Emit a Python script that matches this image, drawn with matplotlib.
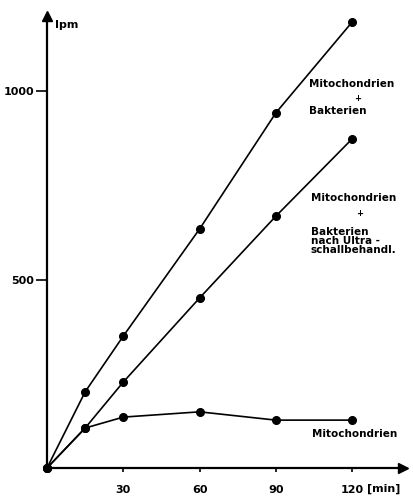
import numpy as np
import matplotlib
matplotlib.use('Agg')
import matplotlib.pyplot as plt

plt.rcParams['font.family'] = 'DejaVu Sans'
plt.rcParams['font.weight'] = 'bold'

# Zeit (min) und Impulse pro Minute
zeit = [0, 15, 30, 60, 90, 120]
mito_bakt = [0, 202, 350, 634, 942, 1183]
mito_bakt_us = [0, 106, 228, 451, 668, 873]
mito = [0, 106, 135, 149, 127, 127]

xticks = [30, 60, 90, 120]
yticks = [500, 1000]

fig = plt.figure(figsize=(4.14, 5.0), dpi=100)
ax = fig.add_axes([47/414, 32/500, 356/414, 452/500])
ax.set_xlim(0, 140.0)
ax.set_ylim(0, 1199)

for s in ['top', 'right']:
    ax.spines[s].set_visible(False)
for s in ['left', 'bottom']:
    ax.spines[s].set_linewidth(1.6)
    ax.spines[s].set_color('black')

# Pfeile an den Achsen
ax.plot(1, 0, marker='>', color='k', markersize=7, transform=ax.transAxes, clip_on=False)
ax.plot(0, 1, marker='^', color='k', markersize=7, transform=ax.transAxes, clip_on=False)

kw = dict(color='black', lw=1.2, marker='o', markersize=5.5, clip_on=False)
ax.plot(zeit, mito_bakt, **kw)
ax.plot(zeit, mito_bakt_us, **kw)
ax.plot(zeit, mito, **kw)

ax.set_xticks(xticks)
ax.set_xticklabels([str(t) for t in xticks])
ax.set_yticks(yticks)
ax.set_yticklabels([str(t) for t in yticks])
ax.tick_params(axis='x', length=3, width=1.2, pad=9, labelsize=8)
ax.tick_params(axis='y', length=8, width=1.2, pad=1, labelsize=8)

ax.text(126.0, -0.046, '[min]', transform=ax.get_xaxis_transform(),
        ha='left', va='center', fontsize=8, fontweight='bold')
ax.text(3.3, 1175, 'Ipm', ha='left', va='center', fontsize=8, fontweight='bold')

fs = 7.5
ax.text(103.0, 1019, 'Mitochondrien', ha='left', va='center', fontsize=fs, fontweight='bold')
ax.text(122.3, 981, '+', ha='center', va='center', fontsize=6, fontweight='bold')
ax.text(103.0, 947, 'Bakterien', ha='left', va='center', fontsize=fs, fontweight='bold')

ax.text(103.8, 716, 'Mitochondrien', ha='left', va='center', fontsize=fs, fontweight='bold')
ax.text(123.0, 676, '+', ha='center', va='center', fontsize=6, fontweight='bold')
ax.text(103.8, 639, 'Bakterien\nnach Ultra -\nschallbehandl.', ha='left', va='top',
        fontsize=fs, fontweight='bold', linespacing=0.85)

ax.text(104.2, 90, 'Mitochondrien', ha='left', va='center', fontsize=fs, fontweight='bold')

fig.savefig('out.png', dpi=100)
